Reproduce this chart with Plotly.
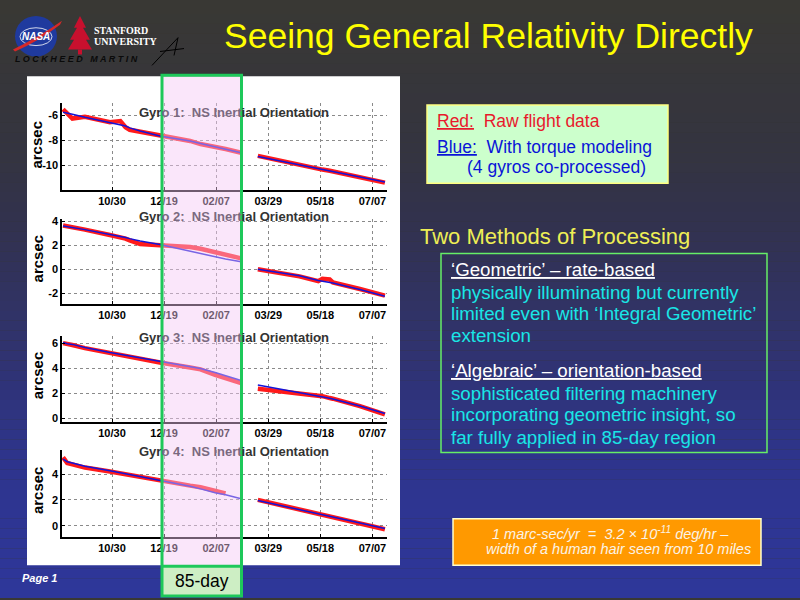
import plotly.graph_objects as go

# ---- data ----
dates = [
    "2004-09-13", "2004-09-17", "2004-09-22", "2004-10-04", "2004-10-28",
    "2004-11-07", "2004-11-12", "2004-11-16", "2004-11-26", "2004-12-15",
    "2005-01-13", "2005-01-23", "2005-02-06", "2005-02-16", "2005-03-03",
    "2005-03-10",  # gap
    "2005-03-19", "2005-04-28", "2005-05-16", "2005-05-20", "2005-05-27",
    "2005-05-30", "2005-06-25", "2005-07-19",
]

gyro1_raw = [-5.5, -5.85, -6.25, -6.1, -6.55, -6.45, -6.95, -7.15, -7.3, -7.65,
             -8.05, -8.3, -8.5, -8.7, -9.0, None,
             -9.25, -10.0, -10.3, -10.35, -10.45, -10.5, -10.95, -11.4]
gyro1_model = [-5.75, -5.8, -5.9, -6.15, -6.6, -6.75, -6.85, -7.0, -7.25, -7.65,
               -8.05, -8.25, -8.5, -8.7, -9.0, None,
               -9.3, -9.98, -10.27, -10.34, -10.46, -10.51, -10.94, -11.35]

gyro2_raw = [3.65, 3.6, 3.5, 3.3, 2.85, 2.7, 2.55, 2.4, 2.1, 2.0,
             1.85, 1.7, 1.4, 1.2, 0.9, None,
             0.0, -0.6, -1.0, -0.8, -0.85, -1.1, -1.65, -2.2]
gyro2_model = [3.6, 3.55, 3.5, 3.3, 2.9, 2.75, 2.65, 2.55, 2.35, 2.05,
               1.5, 1.3, 1.0, 0.85, 0.62, None,
               0.0, -0.55, -0.95, -1.0, -1.1, -1.15, -1.7, -2.25]

gyro3_raw = [6.0, 5.9, 5.85, 5.6, 5.2, 5.05, 4.95, 4.9, 4.75, 4.45,
             4.05, 3.9, 3.45, 3.2, 2.8, None,
             2.35, 2.0, 1.8, 1.75, 1.6, 1.55, 0.95, 0.3]
gyro3_model = [6.05, 5.95, 5.9, 5.65, 5.25, 5.1, 5.0, 4.95, 4.8, 4.5,
               4.1, 3.97, 3.65, 3.4, 3.0, None,
               2.64, 2.05, 1.8, 1.73, 1.58, 1.52, 0.96, 0.37]

gyro4_raw = [5.3, 4.85, 4.75, 4.5, 4.2, 4.05, 3.95, 3.9, 3.75, 3.45,
             3.1, 2.98, 2.75, 2.5, None, None,
             2.0, 1.25, 0.95, 0.88, 0.75, 0.7, 0.25, -0.28]
gyro4_model = [5.15, 4.95, 4.85, 4.6, 4.25, 4.1, 4.0, 3.95, 3.8, 3.5,
               3.05, 2.85, 2.55, 2.4, 2.08, None,
               1.95, 1.25, 0.95, 0.88, 0.75, 0.7, 0.25, -0.22]

tick_dates = ["2004-10-30", "2004-12-19", "2005-02-07", "2005-03-29", "2005-05-18", "2005-07-07"]
tick_labels = ["10/30", "12/19", "02/07", "03/29", "05/18", "07/07"]

gyro_names = ["Gyro 1", "Gyro 2", "Gyro 3", "Gyro 4"]
raw_series = [gyro1_raw, gyro2_raw, gyro3_raw, gyro4_raw]
model_series = [gyro1_model, gyro2_model, gyro3_model, gyro4_model]
y_ticks = [[-10, -8, -6], [-2, 0, 2, 4], [0, 2, 4, 6], [0, 2, 4]]


# pixel -> paper helpers
def px(x):
    return x / 800


def py(y):
    return 1 - y / 600


FONT = "Liberation Sans, Arial, sans-serif"

# panel geometry (pixels): y-top, y-bottom of each axes, and y-range
axes_px = [(100, 188), (217, 303), (335, 422), (450, 538)]
y_ranges = [[-12, -5], [-2.9, 4.2], [-0.3, 6.6], [-0.85, 5.9]]
title_y = [110, 215, 337, 452]
ylabel_y = [142, 257, 375, 491]

fig = go.Figure()

for i in range(4):
    n = i + 1
    fig.add_trace(go.Scatter(
        x=dates, y=raw_series[i], mode="lines", name=f"{gyro_names[i]} raw",
        line=dict(color="#ff1a1a", width=4.5), xaxis=f"x{n}", yaxis=f"y{n}",
        showlegend=False,
    ))
    fig.add_trace(go.Scatter(
        x=dates, y=model_series[i], mode="lines", name=f"{gyro_names[i]} model",
        line=dict(color="#1414d8", width=1.5), xaxis=f"x{n}", yaxis=f"y{n}",
        showlegend=False,
    ))
    top, bot = axes_px[i]
    fig.update_layout({
        f"xaxis{n}": dict(
            domain=[px(62), px(387)], anchor=f"y{n}",
            range=["2004-09-12", "2005-07-21"],
            tickvals=tick_dates, ticktext=tick_labels,
            tickfont=dict(family=FONT, size=11, color="black", weight="bold"),
            showline=True, linecolor="black", linewidth=1.5,
            ticks="inside", ticklen=3, tickcolor="black",
            showgrid=True, gridcolor="#8a8a8a", griddash="dot", gridwidth=1,
            zeroline=False,
        ),
        f"yaxis{n}": dict(
            domain=[py(bot), py(top)], anchor=f"x{n}",
            range=y_ranges[i], tickvals=y_ticks[i],
            ticktext=[str(v) for v in y_ticks[i]],
            tickfont=dict(family=FONT, size=11, color="black", weight="bold"),
            showline=True, linecolor="black", linewidth=1.5,
            ticks="inside", ticklen=3, tickcolor="black",
            showgrid=True, gridcolor="#8a8a8a", griddash="dot", gridwidth=1,
            zeroline=False,
        ),
    })

shapes = []

# background gradient: dark grey at top to blue at bottom
stops = [(0, (57, 56, 52)), (150, (52, 52, 64)), (220, (50, 50, 78)),
         (460, (46, 52, 140)), (600, (46, 55, 155))]


def grad(y):
    for (y0, c0), (y1, c1) in zip(stops[:-1], stops[1:]):
        if y0 <= y <= y1:
            t = (y - y0) / (y1 - y0)
            return "rgb(%d,%d,%d)" % tuple(round(a + (b - a) * t) for a, b in zip(c0, c1))
    return "rgb(46,55,155)"


for y in range(0, 600, 10):
    shapes.append(dict(type="rect", xref="paper", yref="paper", layer="below",
                       x0=0, x1=1, y0=py(y + 10), y1=py(y),
                       fillcolor=grad(y + 5), line=dict(width=0)))

# white chart panel
shapes.append(dict(type="rect", xref="paper", yref="paper", layer="below",
                   x0=px(27), x1=px(400), y0=py(567), y1=py(73),
                   fillcolor="white", line=dict(width=0)))

# 85-day pink band over the plots
shapes.append(dict(type="rect", xref="paper", yref="paper", layer="above",
                   x0=px(162), x1=px(241.5), y0=py(567), y1=py(73),
                   fillcolor="rgba(244,200,244,0.45)", line=dict(width=0)))
# 85-day label box
shapes.append(dict(type="rect", xref="paper", yref="paper", layer="below",
                   x0=px(162), x1=px(241.5), y0=py(598), y1=py(567),
                   fillcolor="#cdeec4", line=dict(width=0)))
shapes.append(dict(type="rect", xref="paper", yref="paper", layer="above",
                   x0=px(162), x1=px(241.5), y0=py(598), y1=py(72),
                   line=dict(color="#1ec85a", width=3)))
shapes.append(dict(type="line", xref="paper", yref="paper", layer="above",
                   x0=px(162), x1=px(241.5), y0=py(568), y1=py(568),
                   line=dict(color="#1ec85a", width=3)))

# legend box
shapes.append(dict(type="rect", xref="paper", yref="paper",
                   x0=px(427), x1=px(668), y0=py(181), y1=py(102),
                   fillcolor="#ccffcc", line=dict(color="#ffff80", width=1.5)))
# methods box
shapes.append(dict(type="rect", xref="paper", yref="paper",
                   x0=px(441), x1=px(767), y0=py(453), y1=py(252),
                   line=dict(color="#66ee66", width=1.5)))
# units box
shapes.append(dict(type="rect", xref="paper", yref="paper",
                   x0=px(453), x1=px(761), y0=py(567), y1=py(520),
                   fillcolor="#ff9900", line=dict(color="#ffffcc", width=1.5)))

# logos (rough)
shapes.append(dict(type="circle", xref="paper", yref="paper",
                   x0=px(15), x1=px(57), y0=py(53), y1=py(12),
                   fillcolor="#1f3a9e", line=dict(width=0)))
shapes.append(dict(type="circle", xref="paper", yref="paper",
                   x0=px(20), x1=px(52), y0=py(42), y1=py(24),
                   line=dict(color="white", width=0.8)))
shapes.append(dict(type="path", xref="paper", yref="paper",
                   path=f"M {px(13)} {py(46)} Q {px(38)} {py(34)} {px(62)} {py(17)} "
                        f"L {px(60)} {py(21)} Q {px(38)} {py(38)} {px(15)} {py(48)} Z",
                   fillcolor="#d62828", line=dict(width=0)))
shapes.append(dict(type="path", xref="paper", yref="paper",
                   path=f"M {px(80)} {py(12)} L {px(74)} {py(24)} L {px(77)} {py(24)} "
                        f"L {px(70)} {py(36)} L {px(74)} {py(36)} L {px(68)} {py(46)} "
                        f"L {px(92)} {py(46)} L {px(86)} {py(36)} L {px(90)} {py(36)} "
                        f"L {px(83)} {py(24)} L {px(86)} {py(24)} Z",
                   fillcolor="#c8102e", line=dict(width=0)))
shapes.append(dict(type="rect", xref="paper", yref="paper",
                   x0=px(78), x1=px(82), y0=py(51), y1=py(46),
                   fillcolor="#c8102e", line=dict(width=0)))
shapes.append(dict(type="path", xref="paper", yref="paper",
                   path=f"M {px(152)} {py(62)} L {px(178)} {py(34)} L {px(174)} {py(52)} "
                        f"M {px(160)} {py(48)} L {px(184)} {py(45)}",
                   line=dict(color="black", width=1)))

annotations = []


def text(x, y, s, size, color, anchor="left", **font_kw):
    annotations.append(dict(
        x=px(x), y=py(y), xref="paper", yref="paper", text=s, showarrow=False,
        xanchor=anchor, yanchor="middle",
        font=dict(family=FONT, size=size, color=color, **font_kw),
    ))


nb = "\u00a0"

# slide title
text(222, 32, "Seeing General Relativity Directly", 35.5, "#ffff00")

# per-gyro titles and y labels (part of the title sits under the pink band)
for i in range(4):
    n = i + 1
    text(233.5, title_y[i],
         f"Gyr<span style='color:#7a6a80'>o {n}:{nb}{nb}NS Inert</span>ial Orientation",
         13, "#333333", anchor="center", weight="bold")
    annotations.append(dict(
        x=px(37), y=py(ylabel_y[i]), xref="paper", yref="paper", text="arcsec",
        showarrow=False, textangle=-90, xanchor="center", yanchor="middle",
        font=dict(family=FONT, size=15, color="black", weight="bold"),
    ))

# legend box
text(435, 118, f"<u>Red:</u>{nb}{nb}Raw flight data", 17.5, "#e8192c")
text(435, 144, f"<u>Blue:</u>{nb}{nb}With torque modeling", 17.5, "#0a14d8")
text(465, 165, "(4 gyros co-processed)", 17.5, "#0a14d8")

# methods
text(418, 235, "Two Methods of Processing", 22, "#eeee55")
cyan = "#19e6e6"
text(449, 268, "<u>‘Geometric’ – rate-based</u>", 18.7, "white")
text(449, 291, "physically illuminating but currently", 18.7, cyan)
text(449, 313, "limited even with ‘Integral Geometric’", 18.7, cyan)
text(449, 335, "extension", 18.7, cyan)
text(449, 370, "<u>‘Algebraic’ – orientation-based</u>", 18.7, "white")
text(449, 393, "sophisticated filtering machinery", 18.7, cyan)
text(449, 415, "incorporating geometric insight, so", 18.7, cyan)
text(449, 438, "far fully applied in 85-day region", 18.7, cyan)

# units box
text(490, 534, f"1 marc-sec/yr{nb}{nb}={nb}{nb}3.2 × 10<sup>-11</sup> deg/hr –", 14.5, "#fbf3e6",
     style="italic")
text(484, 551, "width of a human hair seen from 10 miles", 14.5, "#fbf3e6", style="italic")

# footer
text(20, 580, "Page 1", 11, "white", style="italic", weight="bold")
text(201.5, 583, "85-day", 17.5, "black", anchor="center")

# logo texts
text(36, 33, "NASA", 10, "white", anchor="center", style="italic", weight="bold")
annotations.append(dict(x=px(92), y=py(27), xref="paper", yref="paper", text="STANFORD",
                        showarrow=False, xanchor="left", yanchor="middle",
                        font=dict(family="Liberation Serif, serif", size=10, color="white", weight="bold")))
annotations.append(dict(x=px(92), y=py(38), xref="paper", yref="paper", text="UNIVERSITY",
                        showarrow=False, xanchor="left", yanchor="middle",
                        font=dict(family="Liberation Serif, serif", size=10, color="white", weight="bold")))
text(13, 56, "L O C K H E E D" + nb * 3 + "M A R T I N", 9, "#0a0a0a", style="italic", weight="bold")

fig.update_layout(
    width=800,
    height=600,
    autosize=False,
    margin=dict(l=0, r=0, t=0, b=0),
    paper_bgcolor="rgb(57,56,52)",
    plot_bgcolor="rgba(0,0,0,0)",
    showlegend=False,
    shapes=shapes,
    annotations=annotations,
)

# drop the browser's default 8px body margin so the slide sits at the top-left corner
fig.write_html("out.html", config={"displayModeBar": False},
               post_script="document.body.style.margin='0px';")
